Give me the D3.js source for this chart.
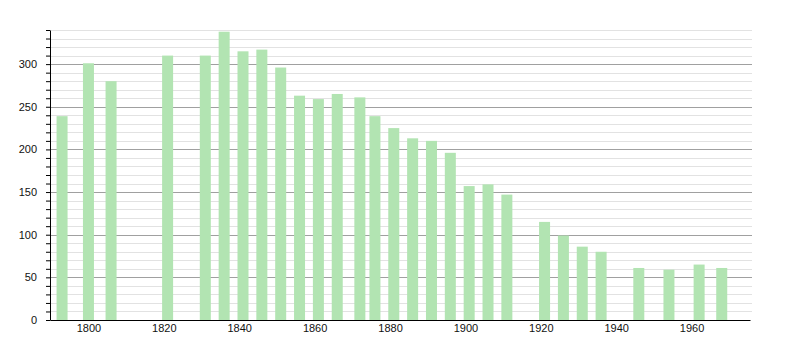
<!DOCTYPE html>
<html>
<head>
<meta charset="utf-8">
<script src="https://cdn.jsdelivr.net/npm/d3@7"></script>
<style>
  body { margin: 0; background: #fff; }
  svg { font-family: "Liberation Sans", Arial, sans-serif; }
</style>
</head>
<body>
<svg id="chart" width="800" height="350"></svg>
<script>
// census years and population
var years = [1793, 1800, 1806, 1821, 1831, 1836, 1841, 1846, 1851, 1856, 1861, 1866, 1872, 1876,
  1881, 1886, 1891, 1896, 1901, 1906, 1911, 1921, 1926, 1931, 1936, 1946, 1954, 1962, 1968];
var population = [239, 301, 280, 310, 310, 338, 315, 317, 296, 263, 259, 265, 261, 239,
  225, 213, 210, 196, 157, 159, 147, 115, 99, 86, 80, 61, 59, 65, 61];
var xTicks = [1800, 1820, 1840, 1860, 1880, 1900, 1920, 1940, 1960];
var yTicks = [0, 50, 100, 150, 200, 250, 300];

var dimensions = {
  width: 800,
  height: 350,
  margin: { top: 30, right: 50, bottom: 30, left: 50 },
};
dimensions.boundedWidth = dimensions.width - dimensions.margin.left - dimensions.margin.right;
dimensions.boundedHeight = dimensions.height - dimensions.margin.top - dimensions.margin.bottom;

var svg = d3.select("#chart");

var xScale = d3.scaleLinear()
  .domain([1789.8, 1975.5])
  .range([0, dimensions.boundedWidth]);

var yScale = d3.scaleLinear()
  .domain([0, 340])
  .range([dimensions.boundedHeight, 0]);

var bounds = svg.append("g")
  .attr("transform", "translate(" + dimensions.margin.left + "," + dimensions.margin.top + ")");

// grid lines, light every 10, darker every 50
var minor = d3.range(10, 341, 10);
bounds.append("g")
  .selectAll("line")
  .data(minor)
  .enter()
  .append("line")
  .attr("x1", 0)
  .attr("x2", dimensions.boundedWidth + 2)
  .attr("y1", function (d) { return Math.round(yScale(d)) + 0.5; })
  .attr("y2", function (d) { return Math.round(yScale(d)) + 0.5; })
  .attr("stroke", function (d) { return d % 50 === 0 ? "#a0a0a0" : "#e2e2e2"; })
  .attr("stroke-width", 1);

// bars
var barWidth = 11;
bounds.selectAll(".bar")
  .data(years)
  .enter()
  .append("rect")
  .attr("class", "bar")
  .attr("x", function (d) { return xScale(d) - barWidth / 2; })
  .attr("width", barWidth)
  .attr("y", function (d, i) { return yScale(population[i]); })
  .attr("height", function (d, i) { return dimensions.boundedHeight - yScale(population[i]); })
  .attr("fill", "#b2e4b2");

// y axis with small ticks every 10
var yAxis = d3.axisLeft(yScale)
  .tickValues(d3.range(0, 341, 10))
  .tickSize(4)
  .tickFormat(function (d) { return yTicks.indexOf(d) >= 0 ? d : ""; })
  .tickSizeOuter(0);

var yG = bounds.append("g").call(yAxis);
yG.select(".domain").attr("stroke", "#000");
yG.selectAll("line").attr("stroke", "#000");
yG.selectAll("text")
  .attr("x", -13)
  .style("font-size", "11px")
  .style("fill", "#111");

// x axis, labels only
var xAxis = d3.axisBottom(xScale)
  .tickValues(xTicks)
  .tickFormat(function (d) { return d; })
  .tickSize(0)
  .tickSizeOuter(0);

var xG = bounds.append("g")
  .attr("transform", "translate(0," + dimensions.boundedHeight + ")")
  .call(xAxis);
xG.select(".domain").attr("stroke", "#000").attr("stroke-width", 1.2);
xG.selectAll("text")
  .attr("y", 4)
  .style("font-size", "11px")
  .style("fill", "#111");
</script>
</body>
</html>
